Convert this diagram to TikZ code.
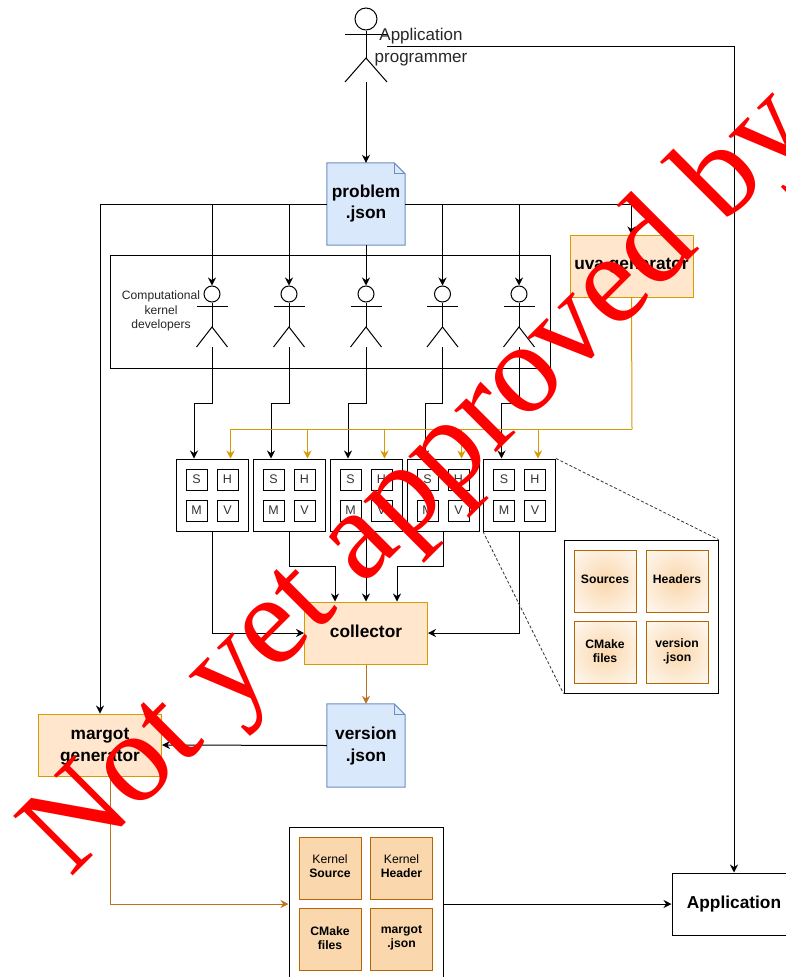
\documentclass[tikz,border=0pt]{standalone}
\usepackage{fontspec}
\setmainfont{Liberation Sans}
\newfontfamily\markfont[Kerning=Off]{Liberation Serif}
\usetikzlibrary{arrows.meta}
\definecolor{docfill}{HTML}{DAE8FC}
\definecolor{docline}{HTML}{6C8EBF}
\definecolor{genfill}{HTML}{FFE6CC}
\definecolor{genline}{HTML}{D79B00}
\definecolor{filefill}{HTML}{FAD7AC}
\definecolor{fileline}{HTML}{B46504}
\pgfdeclareradialshading{fileglow}{\pgfpointorigin}{color(0bp)=(filefill); color(42bp)=(white); color(100bp)=(white)}
\tikzset{
  conn/.style={-{Stealth[length=8pt,width=8pt]}, line width=1pt},
  plain/.style={line width=1pt},
  goldconn/.style={conn, draw=genline},
  brownconn/.style={conn, draw=fileline!90},
  doctext/.style={inner sep=0pt, align=center, font=\fontsize{17.3}{21.7}\selectfont\bfseries},
  docnode/.style={minimum width=78pt, minimum height=82pt, inner sep=0pt},
  gennode/.style={draw=genline, fill=genfill, line width=1pt, minimum width=123pt, minimum height=62pt, inner sep=0pt},
  kernelbox/.style={draw, line width=1pt, minimum width=72pt, minimum height=72pt, inner sep=0pt},
  letterbox/.style={draw, line width=1pt, minimum size=21pt, inner sep=0pt, text=black!80, font=\fontsize{12.5}{14}\selectfont},
  glowfile/.style={draw=fileline, line width=1pt, minimum size=62pt, inner sep=0pt, shading=fileglow},
  solidfile/.style={draw=fileline, fill=filefill, line width=1pt, minimum size=62pt, inner sep=0pt},
  filetext/.style={inner sep=0pt, align=center, font=\fontsize{12.2}{14}\selectfont},
}
\begin{document}
\begin{tikzpicture}[x=1pt, y=-1pt]
    \useasboundingbox (0,0) rectangle (786,977);
    \clip (0,0) rectangle (786,977);

    % Application programmer
    \node[draw, circle, line width=1pt, minimum size=22pt, inner sep=0pt] (apphead) at (366,19) {};
    \draw[plain] (apphead.south) -- (366,58) coordinate (apphip);
    \draw[plain] (345,34) -- (387,34);
    \draw[plain] (345,82) -- (apphip) -- (387,82);
    \coordinate (appfoot) at (366,82);
    \coordinate (apphand) at (387,46);
    \node[align=center, font=\fontsize{17}{22}\selectfont, text=black!85] (applabel) at (421,47.5) {Application\\programmer};

    % Developers box and problem file
    \node[draw, line width=1pt, minimum width=440pt, minimum height=113pt, inner sep=0pt] (devbox) at (330,311.5) {};
    \node[docnode] (problem) at (366,204) {};
    \draw[docline, fill=docfill, line width=1pt] (problem.north west) -- ([xshift=-11pt]problem.north east)
        -- ([yshift=-11pt]problem.north east) -- (problem.south east) -- (problem.south west) -- cycle;
    \draw[docline, line width=1pt] ([xshift=-11pt]problem.north east) -- ++(0,11) -- ++(11,0);
    \node[doctext] (problemlabel) at (366,203.5) {problem\\.json};
    \draw[conn] (appfoot) -- (problem.north);

    % Generators
    \node[gennode] (uva) at (631.5,266) {};
    \node[doctext] (uvalabel) at (631.5,266) {uva generator};
    \node[gennode] (margot) at (100,745) {};
    \node[doctext] (margotlabel) at (100,747) {margot\\generator};
    \draw[conn] (problem.west) -| (margot.north);
    \draw[conn] (problem.east) -| (uva.north);

    % Kernel developers, kernels and their four parts
    \foreach \i/\x/\kx in {1/212/212, 2/289/289, 3/366/366, 4/442.5/443, 5/519/519.5} {
        \node[draw, circle, line width=1pt, minimum size=16pt, inner sep=0pt] (head\i) at (\x,294) {};
        \draw[plain] (head\i.south) -- (\x,327) coordinate (hip\i);
        \draw[plain] (\x-15.5,306) -- (\x+15.5,306);
        \draw[plain] (\x-15.5,347) -- (hip\i) -- (\x+15.5,347);
        \coordinate (foot\i) at (\x,347);
        \node[kernelbox] (kernel\i) at (\kx,495) {};
        \node[letterbox] (s\i) at ([shift={(-15.5,-15.5)}]kernel\i.center) {S};
        \node[letterbox] (h\i) at ([shift={(15.5,-15.5)}]kernel\i.center) {H};
        \node[letterbox] (m\i) at ([shift={(-15.5,15.5)}]kernel\i.center) {M};
        \node[letterbox] (v\i) at ([shift={(15.5,15.5)}]kernel\i.center) {V};
        \draw[conn] (foot\i) -- (\x,403) -| ([xshift=-18pt]kernel\i.north);
    }
    \node[align=center, font=\fontsize{12.1}{14.3}\selectfont, text=black!85] (devlabel) at (161,311) {Computational\\kernel\\developers};
    \draw[conn] (problem.south) -- (head3.north);
    \foreach \i/\x in {1/212, 2/289, 4/442.5, 5/519} {
        \draw[conn] (\x,204) -- (head\i.north);
    }

    % uva generator to the kernels
    \coordinate (goldbus) at (632,429);
    \draw[plain, draw=genline] (uva.south) -- (goldbus);
    \foreach \i in {1,...,5} {
        \draw[goldconn] (goldbus) -| ([xshift=18.5pt]kernel\i.north);
    }

    % Collector
    \node[gennode] (collector) at (366,633) {};
    \node[doctext] (collectorlabel) at (366,631) {collector};
    \draw[conn] (kernel1.south) |- (collector.west);
    \draw[conn] (kernel2.south) -- (289,566.5) -| ([xshift=-31pt]collector.north);
    \draw[conn] (kernel3.south) -- (collector.north);
    \draw[conn] (kernel4.south) -- (443,566.5) -| ([xshift=31pt]collector.north);
    \draw[conn] (kernel5.south) |- (collector.east);

    % Zoomed kernel
    \node[draw, line width=1pt, minimum width=154pt, minimum height=153pt, inner sep=0pt] (panel) at (641,616.5) {};
    \foreach \n/\x/\y/\t in {sources/605/581/Sources, headers/677/581/Headers, cmake/605/652.5/{CMake\\files}, versionfile/677/652.5/{version\\.json}} {
        \node[glowfile] (\n) at (\x,\y) {};
        \node[filetext, font=\fontsize{12.2}{14}\selectfont\bfseries] (\n label) at ([yshift=1.5pt]\n.center) {\t};
    }
    \draw[densely dashed, line width=0.8pt, black!80] (kernel5.north east) -- (panel.north east);
    \draw[densely dashed, line width=0.8pt, black!80] (kernel5.south west) -- (panel.south west);

    % version file
    \node[docnode, minimum height=83pt] (version) at (366,745.5) {};
    \draw[docline, fill=docfill, line width=1pt] (version.north west) -- ([xshift=-11pt]version.north east)
        -- ([yshift=-11pt]version.north east) -- (version.south east) -- (version.south west) -- cycle;
    \draw[docline, line width=1pt] ([xshift=-11pt]version.north east) -- ++(0,11) -- ++(11,0);
    \node[doctext] (versionlabel) at (366,746) {version\\.json};
    \draw[brownconn] (collector.south) -- (version.north);
    \draw[conn] (version.west) -- (margot.east);

    % Output files
    \node[draw, line width=1pt, minimum width=154pt, minimum height=154pt, inner sep=0pt] (output) at (366,904) {};
    \foreach \n/\x/\y/\t in {ksource/330/868/{Kernel\\\textbf{Source}}, kheader/401.5/868/{Kernel\\\textbf{Header}},
        kcmake/330/939.5/{\textbf{CMake}\\\textbf{files}}, kmargot/401.5/939.5/{\textbf{margot}\\\textbf{.json}}} {
        \node[solidfile] (\n) at (\x,\y) {};
        \node[filetext] (\n label) at ([yshift=1.5pt]\n.center) {\t};
    }
    \draw[brownconn] ([xshift=10pt]margot.south) |- (output.west);

    % Application
    \node[draw, line width=1pt, minimum width=124pt, minimum height=62pt, inner sep=0pt] (application) at (734,904) {};
    \node[doctext] (applicationlabel) at (734,904.5) {Application};
    \draw[conn] (output.east) -- (application.west);
    \draw[conn] (apphand) -- (734,46) -- (application.north);

    % Watermark
    \node[anchor=base west, rotate=45, inner sep=0pt, text=red, font=\fontsize{128.5}{128}\markfont] (stamp) at (70,879) {Not yet approved by};
\end{tikzpicture}
\end{document}
